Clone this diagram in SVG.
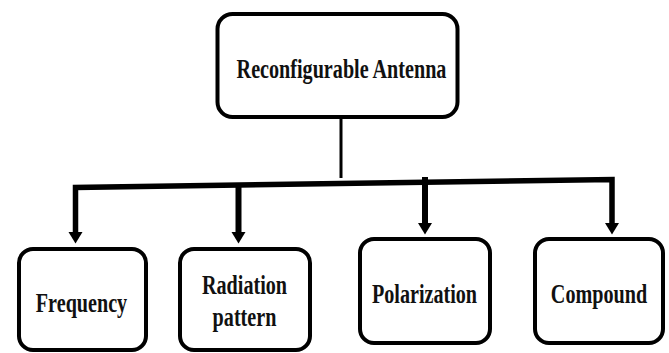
<svg xmlns="http://www.w3.org/2000/svg" width="669" height="353" viewBox="0 0 669 353">
<style>
.box{fill:#fff;stroke:#000;stroke-width:4}
.lbl{font-family:"Liberation Serif","Times New Roman",serif;font-weight:bold;font-size:28px;fill:#111;text-anchor:middle}
.ln{fill:none;stroke:#000;stroke-linejoin:miter}
.head{fill:#000}
</style>
<rect width="669" height="353" fill="#fff"/>
<g id="connectors">
<line class="ln" x1="341" y1="117" x2="341" y2="178" stroke-width="3"/>
<path class="ln" d="M75.5,234 L75.5,187.5 L612,179.5 L612,225" stroke-width="5.5"/>
<line class="ln" x1="238.5" y1="185" x2="238.5" y2="234" stroke-width="6"/>
<line class="ln" x1="425" y1="177" x2="425" y2="225" stroke-width="6"/>
<polygon class="head" points="68.5,232 82.5,232 75.5,243.5"/>
<polygon class="head" points="231.5,232 245.5,232 238.5,243.5"/>
<polygon class="head" points="418,223 432,223 425,234.5"/>
<polygon class="head" points="605,223 619,223 612,234.5"/>
</g>
<g id="reconfigurable-antenna">
<rect class="box" x="217.5" y="14" width="240" height="103" rx="15"/>
<text class="lbl" transform="translate(341.5,78) scale(0.72,1)">Reconfigurable Antenna</text>
</g>
<g id="frequency">
<rect class="box" x="19" y="249" width="127" height="101" rx="14"/>
<text class="lbl" transform="translate(81.5,312) scale(0.72,1)">Frequency</text>
</g>
<g id="radiation-pattern">
<rect class="box" x="180" y="249" width="130" height="101" rx="14"/>
<text class="lbl" transform="translate(244.5,294) scale(0.72,1)">Radiation</text>
<text class="lbl" transform="translate(244.5,326) scale(0.72,1)">pattern</text>
</g>
<g id="polarization">
<rect class="box" x="360" y="239" width="130" height="104" rx="14"/>
<text class="lbl" transform="translate(424.5,303) scale(0.72,1)">Polarization</text>
</g>
<g id="compound">
<rect class="box" x="535" y="239" width="128" height="104" rx="14"/>
<text class="lbl" transform="translate(599,303) scale(0.72,1)">Compound</text>
</g>
</svg>
